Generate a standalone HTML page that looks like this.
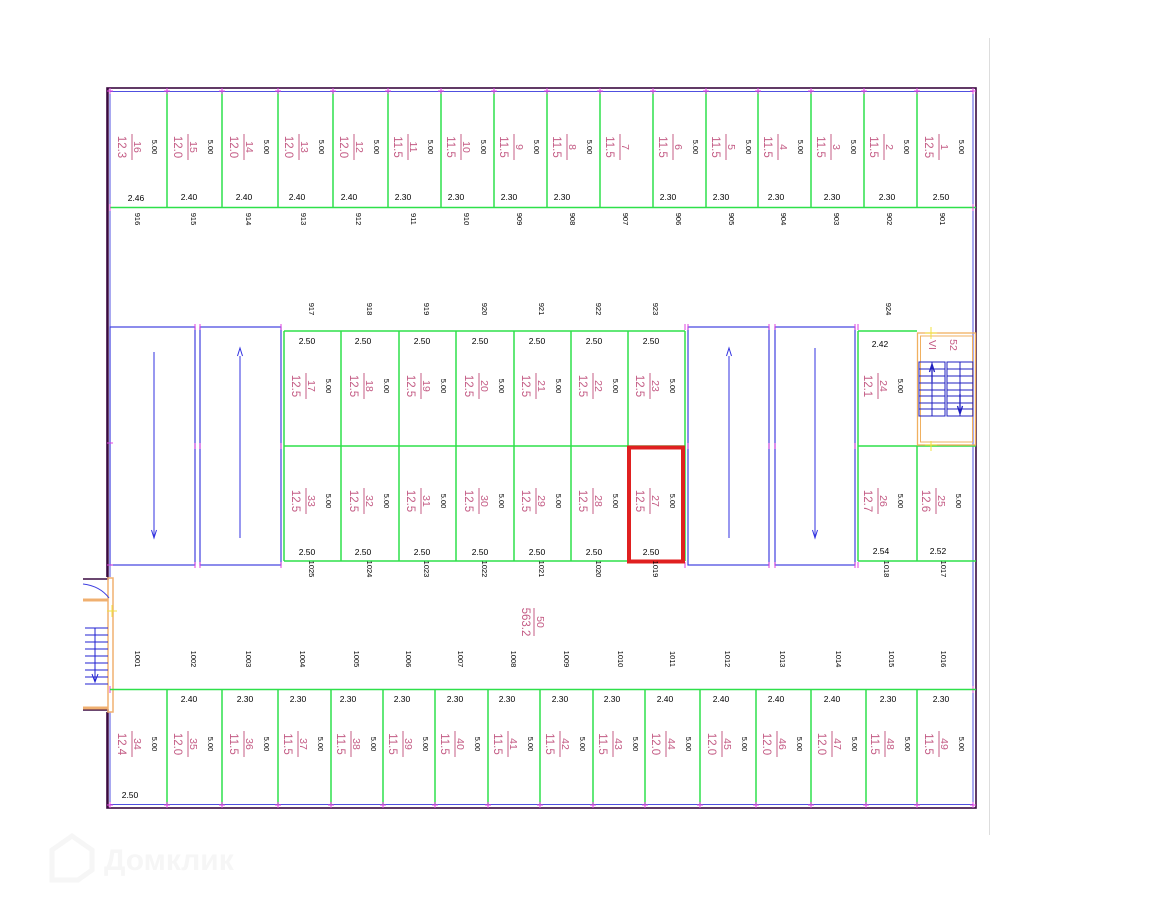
<!DOCTYPE html>
<html><head><meta charset="utf-8"><style>
html,body{margin:0;padding:0;background:#fff}
svg{display:block}
text{font-family:"Liberation Sans",sans-serif}
.a{fill:#c45c85;font-size:11.5px;text-anchor:middle}
.n{fill:#c45c85;font-size:10.5px;text-anchor:middle}
.s{fill:#000;font-size:7.5px;text-anchor:middle}
.w{fill:#000;font-size:8.5px;text-anchor:middle}
.l{fill:#000;font-size:7.5px;text-anchor:middle}
.fl{stroke:#c45c85;stroke-width:1}
.g{stroke:#2ee04a;stroke-width:1.5;fill:none}
.b{stroke:#4040e0;stroke-width:1.2;fill:none}
.t{stroke:#e040e0;stroke-width:1;fill:none}
</style></head><body>
<svg width="1152" height="915" viewBox="0 0 1152 915" xmlns="http://www.w3.org/2000/svg">
<line x1="989.5" y1="38" x2="989.5" y2="835" stroke="#ddd" stroke-width="1"/>
<rect x="107" y="88" width="869" height="720" fill="none" stroke="#3a0a40" stroke-width="1.6"/>
<rect x="110" y="91.5" width="863" height="713" fill="none" stroke="#5050e0" stroke-width="1"/>
<rect x="82" y="577" width="31" height="135" fill="#fff"/>
<path d="M83 579H108V88" fill="none" stroke="#3a0a40" stroke-width="1.5"/>
<path d="M83 710H108V808" fill="none" stroke="#3a0a40" stroke-width="1.5"/>
<rect x="108" y="578" width="5" height="134" fill="none" stroke="#f0b070" stroke-width="1.5"/>
<line x1="83" y1="600" x2="108" y2="600" stroke="#f0b070" stroke-width="3"/>
<line x1="83" y1="708" x2="108" y2="708" stroke="#f0b070" stroke-width="3"/>
<path d="M83 584Q100 586 109 598" fill="none" stroke="#4040e0" stroke-width="1"/>
<g stroke="#2020d0" stroke-width="1" fill="none">
<line x1="85" y1="628" x2="108" y2="628"/><line x1="85" y1="635" x2="108" y2="635"/><line x1="85" y1="642" x2="108" y2="642"/><line x1="85" y1="649" x2="108" y2="649"/><line x1="85" y1="656" x2="108" y2="656"/><line x1="85" y1="663" x2="108" y2="663"/><line x1="85" y1="670" x2="108" y2="670"/><line x1="85" y1="677" x2="108" y2="677"/><line x1="85" y1="684" x2="108" y2="684"/>
<line x1="95" y1="628" x2="95" y2="682"/><path d="M92 674L95 682L98 674"/>
</g>
<path d="M107 611H117M112 605V617" stroke="#f0e040" stroke-width="1"/>

<line x1="110" y1="207.5" x2="976" y2="207.5" class="g"/>
<g class="g">
<line x1="167" y1="92" x2="167" y2="207"/><line x1="222" y1="92" x2="222" y2="207"/><line x1="278" y1="92" x2="278" y2="207"/><line x1="333" y1="92" x2="333" y2="207"/><line x1="388" y1="92" x2="388" y2="207"/><line x1="441" y1="92" x2="441" y2="207"/><line x1="494" y1="92" x2="494" y2="207"/><line x1="547" y1="92" x2="547" y2="207"/><line x1="600" y1="92" x2="600" y2="207"/><line x1="653" y1="92" x2="653" y2="207"/><line x1="706" y1="92" x2="706" y2="207"/><line x1="758" y1="92" x2="758" y2="207"/><line x1="811" y1="92" x2="811" y2="207"/><line x1="864" y1="92" x2="864" y2="207"/><line x1="917" y1="92" x2="917" y2="207"/>
</g>
<g class="t">
<path d="M110 88v6M107 91h6M167 88v6M164 91h6M222 88v6M219 91h6M278 88v6M275 91h6M333 88v6M330 91h6M388 88v6M385 91h6M441 88v6M438 91h6M494 88v6M491 91h6M547 88v6M544 91h6M600 88v6M597 91h6M653 88v6M650 91h6M706 88v6M703 91h6M758 88v6M755 91h6M811 88v6M808 91h6M864 88v6M861 91h6M917 88v6M914 91h6M973 88v6M970 91h6"/>
<path d="M110 204v7M973 204v7M110 686v7M973 686v7"/>
</g>

<g transform="translate(138,147) rotate(90)"><text class="n" y="4">16</text><line class="fl" x1="-13" y1="6" x2="13" y2="6"/><text class="a" y="20">12.3</text><text class="s" y="-14">5.00</text></g>
<g transform="translate(194,147) rotate(90)"><text class="n" y="4">15</text><line class="fl" x1="-13" y1="6" x2="13" y2="6"/><text class="a" y="20">12.0</text><text class="s" y="-14">5.00</text></g>
<g transform="translate(250,147) rotate(90)"><text class="n" y="4">14</text><line class="fl" x1="-13" y1="6" x2="13" y2="6"/><text class="a" y="20">12.0</text><text class="s" y="-14">5.00</text></g>
<g transform="translate(305,147) rotate(90)"><text class="n" y="4">13</text><line class="fl" x1="-13" y1="6" x2="13" y2="6"/><text class="a" y="20">12.0</text><text class="s" y="-14">5.00</text></g>
<g transform="translate(360,147) rotate(90)"><text class="n" y="4">12</text><line class="fl" x1="-13" y1="6" x2="13" y2="6"/><text class="a" y="20">12.0</text><text class="s" y="-14">5.00</text></g>
<g transform="translate(414,147) rotate(90)"><text class="n" y="4">11</text><line class="fl" x1="-13" y1="6" x2="13" y2="6"/><text class="a" y="20">11.5</text><text class="s" y="-14">5.00</text></g>
<g transform="translate(467,147) rotate(90)"><text class="n" y="4">10</text><line class="fl" x1="-13" y1="6" x2="13" y2="6"/><text class="a" y="20">11.5</text><text class="s" y="-14">5.00</text></g>
<g transform="translate(520,147) rotate(90)"><text class="n" y="4">9</text><line class="fl" x1="-13" y1="6" x2="13" y2="6"/><text class="a" y="20">11.5</text><text class="s" y="-14">5.00</text></g>
<g transform="translate(573,147) rotate(90)"><text class="n" y="4">8</text><line class="fl" x1="-13" y1="6" x2="13" y2="6"/><text class="a" y="20">11.5</text><text class="s" y="-14">5.00</text></g>
<g transform="translate(626,147) rotate(90)"><text class="n" y="4">7</text><line class="fl" x1="-13" y1="6" x2="13" y2="6"/><text class="a" y="20">11.5</text></g>
<g transform="translate(679,147) rotate(90)"><text class="n" y="4">6</text><line class="fl" x1="-13" y1="6" x2="13" y2="6"/><text class="a" y="20">11.5</text><text class="s" y="-14">5.00</text></g>
<g transform="translate(732,147) rotate(90)"><text class="n" y="4">5</text><line class="fl" x1="-13" y1="6" x2="13" y2="6"/><text class="a" y="20">11.5</text><text class="s" y="-14">5.00</text></g>
<g transform="translate(784,147) rotate(90)"><text class="n" y="4">4</text><line class="fl" x1="-13" y1="6" x2="13" y2="6"/><text class="a" y="20">11.5</text><text class="s" y="-14">5.00</text></g>
<g transform="translate(837,147) rotate(90)"><text class="n" y="4">3</text><line class="fl" x1="-13" y1="6" x2="13" y2="6"/><text class="a" y="20">11.5</text><text class="s" y="-14">5.00</text></g>
<g transform="translate(890,147) rotate(90)"><text class="n" y="4">2</text><line class="fl" x1="-13" y1="6" x2="13" y2="6"/><text class="a" y="20">11.5</text><text class="s" y="-14">5.00</text></g>
<g transform="translate(945,147) rotate(90)"><text class="n" y="4">1</text><line class="fl" x1="-13" y1="6" x2="13" y2="6"/><text class="a" y="20">12.5</text><text class="s" y="-14">5.00</text></g>
<g class="w">
<text x="136" y="201">2.46</text><text x="189" y="200">2.40</text><text x="244" y="200">2.40</text><text x="297" y="200">2.40</text><text x="349" y="200">2.40</text><text x="403" y="200">2.30</text><text x="456" y="200">2.30</text><text x="509" y="200">2.30</text><text x="562" y="200">2.30</text><text x="668" y="200">2.30</text><text x="721" y="200">2.30</text><text x="776" y="200">2.30</text><text x="832" y="200">2.30</text><text x="887" y="200">2.30</text><text x="941" y="200">2.50</text>
</g>
<g class="l">
<text transform="translate(135,219) rotate(90)">916</text><text transform="translate(191,219) rotate(90)">915</text><text transform="translate(246,219) rotate(90)">914</text><text transform="translate(301,219) rotate(90)">913</text><text transform="translate(356,219) rotate(90)">912</text><text transform="translate(411,219) rotate(90)">911</text><text transform="translate(464,219) rotate(90)">910</text><text transform="translate(517,219) rotate(90)">909</text><text transform="translate(570,219) rotate(90)">908</text><text transform="translate(623,219) rotate(90)">907</text><text transform="translate(676,219) rotate(90)">906</text><text transform="translate(729,219) rotate(90)">905</text><text transform="translate(781,219) rotate(90)">904</text><text transform="translate(834,219) rotate(90)">903</text><text transform="translate(887,219) rotate(90)">902</text><text transform="translate(940,219) rotate(90)">901</text>
</g>

<g class="b">
<rect x="110" y="327" width="85" height="238"/><rect x="200" y="327" width="81" height="238"/>
<rect x="688" y="327" width="81" height="238"/><rect x="775" y="327" width="80" height="238"/>
</g>
<g stroke="#3030e0" stroke-width="1" fill="none">
<line x1="154" y1="352" x2="154" y2="536"/><path d="M151.5 530L154 538L156.5 530"/>
<line x1="240" y1="356" x2="240" y2="538"/><path d="M237.5 356L240 348L242.5 356"/>
<line x1="729" y1="356" x2="729" y2="538"/><path d="M726.5 356L729 348L731.5 356"/>
<line x1="815" y1="348" x2="815" y2="536"/><path d="M812.5 530L815 538L817.5 530"/>
</g>
<g class="t"><path d="M195 324v6M200 324v6M195 443v6M200 443v6M195 562v6M200 562v6M281 324v6M281 443v6M281 562v6M685 324v6M688 324v6M769 324v6M775 324v6M855 324v6M858 324v6M685 443v6M688 443v6M769 443v6M775 443v6M855 443v6M858 443v6M685 562v6M769 562v6M775 562v6M855 562v6M858 562v6M107 443h6M107 565h6"/></g>

<g class="g">
<line x1="284" y1="331" x2="685" y2="331"/><line x1="284" y1="446" x2="685" y2="446"/><line x1="284" y1="561" x2="685" y2="561"/>
<line x1="284" y1="331" x2="284" y2="561"/><line x1="341" y1="331" x2="341" y2="561"/><line x1="399" y1="331" x2="399" y2="561"/><line x1="456" y1="331" x2="456" y2="561"/><line x1="514" y1="331" x2="514" y2="561"/><line x1="571" y1="331" x2="571" y2="561"/><line x1="628" y1="331" x2="628" y2="561"/><line x1="685" y1="331" x2="685" y2="561"/>
<line x1="858" y1="331" x2="917" y2="331"/><line x1="858" y1="446" x2="976" y2="446"/><line x1="858" y1="561" x2="976" y2="561"/>
<line x1="858" y1="331" x2="858" y2="561"/><line x1="917" y1="446" x2="917" y2="561"/>
</g>
<rect x="629" y="447.5" width="54" height="114" fill="none" stroke="#e02020" stroke-width="4"/>

<g transform="translate(312,386) rotate(90)"><text class="n" y="4">17</text><line class="fl" x1="-13" y1="6" x2="13" y2="6"/><text class="a" y="20">12.5</text><text class="s" y="-14">5.00</text></g>
<g transform="translate(370,386) rotate(90)"><text class="n" y="4">18</text><line class="fl" x1="-13" y1="6" x2="13" y2="6"/><text class="a" y="20">12.5</text><text class="s" y="-14">5.00</text></g>
<g transform="translate(427,386) rotate(90)"><text class="n" y="4">19</text><line class="fl" x1="-13" y1="6" x2="13" y2="6"/><text class="a" y="20">12.5</text><text class="s" y="-14">5.00</text></g>
<g transform="translate(485,386) rotate(90)"><text class="n" y="4">20</text><line class="fl" x1="-13" y1="6" x2="13" y2="6"/><text class="a" y="20">12.5</text><text class="s" y="-14">5.00</text></g>
<g transform="translate(542,386) rotate(90)"><text class="n" y="4">21</text><line class="fl" x1="-13" y1="6" x2="13" y2="6"/><text class="a" y="20">12.5</text><text class="s" y="-14">5.00</text></g>
<g transform="translate(599,386) rotate(90)"><text class="n" y="4">22</text><line class="fl" x1="-13" y1="6" x2="13" y2="6"/><text class="a" y="20">12.5</text><text class="s" y="-14">5.00</text></g>
<g transform="translate(656,386) rotate(90)"><text class="n" y="4">23</text><line class="fl" x1="-13" y1="6" x2="13" y2="6"/><text class="a" y="20">12.5</text><text class="s" y="-14">5.00</text></g>
<g transform="translate(884,386) rotate(90)"><text class="n" y="4">24</text><line class="fl" x1="-13" y1="6" x2="13" y2="6"/><text class="a" y="20">12.1</text><text class="s" y="-14">5.00</text></g>

<g transform="translate(312,501) rotate(90)"><text class="n" y="4">33</text><line class="fl" x1="-13" y1="6" x2="13" y2="6"/><text class="a" y="20">12.5</text><text class="s" y="-14">5.00</text></g>
<g transform="translate(370,501) rotate(90)"><text class="n" y="4">32</text><line class="fl" x1="-13" y1="6" x2="13" y2="6"/><text class="a" y="20">12.5</text><text class="s" y="-14">5.00</text></g>
<g transform="translate(427,501) rotate(90)"><text class="n" y="4">31</text><line class="fl" x1="-13" y1="6" x2="13" y2="6"/><text class="a" y="20">12.5</text><text class="s" y="-14">5.00</text></g>
<g transform="translate(485,501) rotate(90)"><text class="n" y="4">30</text><line class="fl" x1="-13" y1="6" x2="13" y2="6"/><text class="a" y="20">12.5</text><text class="s" y="-14">5.00</text></g>
<g transform="translate(542,501) rotate(90)"><text class="n" y="4">29</text><line class="fl" x1="-13" y1="6" x2="13" y2="6"/><text class="a" y="20">12.5</text><text class="s" y="-14">5.00</text></g>
<g transform="translate(599,501) rotate(90)"><text class="n" y="4">28</text><line class="fl" x1="-13" y1="6" x2="13" y2="6"/><text class="a" y="20">12.5</text><text class="s" y="-14">5.00</text></g>
<g transform="translate(656,501) rotate(90)"><text class="n" y="4">27</text><line class="fl" x1="-13" y1="6" x2="13" y2="6"/><text class="a" y="20">12.5</text><text class="s" y="-14">5.00</text></g>
<g transform="translate(884,501) rotate(90)"><text class="n" y="4">26</text><line class="fl" x1="-13" y1="6" x2="13" y2="6"/><text class="a" y="20">12.7</text><text class="s" y="-14">5.00</text></g>
<g transform="translate(942,501) rotate(90)"><text class="n" y="4">25</text><line class="fl" x1="-13" y1="6" x2="13" y2="6"/><text class="a" y="20">12.6</text><text class="s" y="-14">5.00</text></g>

<g class="w">
<text x="307" y="344">2.50</text><text x="363" y="344">2.50</text><text x="422" y="344">2.50</text><text x="480" y="344">2.50</text><text x="537" y="344">2.50</text><text x="594" y="344">2.50</text><text x="651" y="344">2.50</text><text x="880" y="347">2.42</text>
<text x="307" y="555">2.50</text><text x="363" y="555">2.50</text><text x="422" y="555">2.50</text><text x="480" y="555">2.50</text><text x="537" y="555">2.50</text><text x="594" y="555">2.50</text><text x="651" y="555">2.50</text><text x="881" y="554">2.54</text><text x="938" y="554">2.52</text>
</g>
<g class="l">
<text transform="translate(309,309) rotate(90)">917</text><text transform="translate(367,309) rotate(90)">918</text><text transform="translate(424,309) rotate(90)">919</text><text transform="translate(482,309) rotate(90)">920</text><text transform="translate(539,309) rotate(90)">921</text><text transform="translate(596,309) rotate(90)">922</text><text transform="translate(653,309) rotate(90)">923</text><text transform="translate(886,309) rotate(90)">924</text>
<text transform="translate(309,569) rotate(90)">1025</text><text transform="translate(367,569) rotate(90)">1024</text><text transform="translate(424,569) rotate(90)">1023</text><text transform="translate(482,569) rotate(90)">1022</text><text transform="translate(539,569) rotate(90)">1021</text><text transform="translate(596,569) rotate(90)">1020</text><text transform="translate(653,569) rotate(90)">1019</text><text transform="translate(884,569) rotate(90)">1018</text><text transform="translate(941,569) rotate(90)">1017</text>
</g>

<rect x="917.5" y="333" width="58" height="112" fill="none" stroke="#f0b060" stroke-width="1.3"/>
<rect x="920.5" y="336" width="52" height="106" fill="none" stroke="#f0b060" stroke-width="1"/>
<path d="M931 327v12M925 333h12M931 441v10M925 445h12" stroke="#f0e040" stroke-width="1"/>
<text class="n" transform="translate(929,345) rotate(90)">VI</text>
<text class="n" transform="translate(950,345) rotate(90)">52</text>
<g stroke="#2020c0" stroke-width="1" fill="none">
<rect x="919" y="362" width="26" height="54"/><rect x="947" y="362" width="26" height="54"/>
<path d="M919 369h26M919 376h26M919 383h26M919 390h26M919 396h26M919 403h26M919 409h26M947 369h26M947 376h26M947 383h26M947 390h26M947 396h26M947 403h26M947 409h26M932 362v54M960 362v54"/>
<path d="M932 364v18M929.5 372L932 364L934.5 372M960 394v20M957.5 406L960 414L962.5 406" stroke-width="1.3"/>
</g>

<g transform="translate(540,622) rotate(90)"><text class="n" y="3">50</text><line class="fl" x1="-14" y1="6" x2="14" y2="6"/><text class="a" y="18">563.2</text></g>

<line x1="110" y1="689.5" x2="976" y2="689.5" class="g"/>
<g class="g">
<line x1="167" y1="690" x2="167" y2="805"/><line x1="222" y1="690" x2="222" y2="805"/><line x1="278" y1="690" x2="278" y2="805"/><line x1="331" y1="690" x2="331" y2="805"/><line x1="383" y1="690" x2="383" y2="805"/><line x1="435" y1="690" x2="435" y2="805"/><line x1="488" y1="690" x2="488" y2="805"/><line x1="540" y1="690" x2="540" y2="805"/><line x1="593" y1="690" x2="593" y2="805"/><line x1="645" y1="690" x2="645" y2="805"/><line x1="700" y1="690" x2="700" y2="805"/><line x1="756" y1="690" x2="756" y2="805"/><line x1="811" y1="690" x2="811" y2="805"/><line x1="866" y1="690" x2="866" y2="805"/><line x1="917" y1="690" x2="917" y2="805"/>
</g>
<g class="t">
<path d="M110 802v6M107 805h6M167 802v6M164 805h6M222 802v6M219 805h6M278 802v6M275 805h6M331 802v6M328 805h6M383 802v6M380 805h6M435 802v6M432 805h6M488 802v6M485 805h6M540 802v6M537 805h6M593 802v6M590 805h6M645 802v6M642 805h6M700 802v6M697 805h6M756 802v6M753 805h6M811 802v6M808 805h6M866 802v6M863 805h6M917 802v6M914 805h6M973 802v6M970 805h6"/>
</g>
<g transform="translate(138,744) rotate(90)"><text class="n" y="4">34</text><line class="fl" x1="-13" y1="6" x2="13" y2="6"/><text class="a" y="20">12.4</text><text class="s" y="-14">5.00</text></g>
<g transform="translate(194,744) rotate(90)"><text class="n" y="4">35</text><line class="fl" x1="-13" y1="6" x2="13" y2="6"/><text class="a" y="20">12.0</text><text class="s" y="-14">5.00</text></g>
<g transform="translate(250,744) rotate(90)"><text class="n" y="4">36</text><line class="fl" x1="-13" y1="6" x2="13" y2="6"/><text class="a" y="20">11.5</text><text class="s" y="-14">5.00</text></g>
<g transform="translate(304,744) rotate(90)"><text class="n" y="4">37</text><line class="fl" x1="-13" y1="6" x2="13" y2="6"/><text class="a" y="20">11.5</text><text class="s" y="-14">5.00</text></g>
<g transform="translate(357,744) rotate(90)"><text class="n" y="4">38</text><line class="fl" x1="-13" y1="6" x2="13" y2="6"/><text class="a" y="20">11.5</text><text class="s" y="-14">5.00</text></g>
<g transform="translate(409,744) rotate(90)"><text class="n" y="4">39</text><line class="fl" x1="-13" y1="6" x2="13" y2="6"/><text class="a" y="20">11.5</text><text class="s" y="-14">5.00</text></g>
<g transform="translate(461,744) rotate(90)"><text class="n" y="4">40</text><line class="fl" x1="-13" y1="6" x2="13" y2="6"/><text class="a" y="20">11.5</text><text class="s" y="-14">5.00</text></g>
<g transform="translate(514,744) rotate(90)"><text class="n" y="4">41</text><line class="fl" x1="-13" y1="6" x2="13" y2="6"/><text class="a" y="20">11.5</text><text class="s" y="-14">5.00</text></g>
<g transform="translate(566,744) rotate(90)"><text class="n" y="4">42</text><line class="fl" x1="-13" y1="6" x2="13" y2="6"/><text class="a" y="20">11.5</text><text class="s" y="-14">5.00</text></g>
<g transform="translate(619,744) rotate(90)"><text class="n" y="4">43</text><line class="fl" x1="-13" y1="6" x2="13" y2="6"/><text class="a" y="20">11.5</text><text class="s" y="-14">5.00</text></g>
<g transform="translate(672,744) rotate(90)"><text class="n" y="4">44</text><line class="fl" x1="-13" y1="6" x2="13" y2="6"/><text class="a" y="20">12.0</text><text class="s" y="-14">5.00</text></g>
<g transform="translate(728,744) rotate(90)"><text class="n" y="4">45</text><line class="fl" x1="-13" y1="6" x2="13" y2="6"/><text class="a" y="20">12.0</text><text class="s" y="-14">5.00</text></g>
<g transform="translate(783,744) rotate(90)"><text class="n" y="4">46</text><line class="fl" x1="-13" y1="6" x2="13" y2="6"/><text class="a" y="20">12.0</text><text class="s" y="-14">5.00</text></g>
<g transform="translate(838,744) rotate(90)"><text class="n" y="4">47</text><line class="fl" x1="-13" y1="6" x2="13" y2="6"/><text class="a" y="20">12.0</text><text class="s" y="-14">5.00</text></g>
<g transform="translate(891,744) rotate(90)"><text class="n" y="4">48</text><line class="fl" x1="-13" y1="6" x2="13" y2="6"/><text class="a" y="20">11.5</text><text class="s" y="-14">5.00</text></g>
<g transform="translate(945,744) rotate(90)"><text class="n" y="4">49</text><line class="fl" x1="-13" y1="6" x2="13" y2="6"/><text class="a" y="20">11.5</text><text class="s" y="-14">5.00</text></g>
<g class="w">
<text x="130" y="798">2.50</text>
<text x="189" y="702">2.40</text><text x="245" y="702">2.30</text><text x="298" y="702">2.30</text><text x="348" y="702">2.30</text><text x="402" y="702">2.30</text><text x="455" y="702">2.30</text><text x="507" y="702">2.30</text><text x="560" y="702">2.30</text><text x="612" y="702">2.30</text><text x="665" y="702">2.40</text><text x="721" y="702">2.40</text><text x="776" y="702">2.40</text><text x="832" y="702">2.40</text><text x="888" y="702">2.30</text><text x="941" y="702">2.30</text>
</g>
<g class="l">
<text transform="translate(135,659) rotate(90)">1001</text><text transform="translate(191,659) rotate(90)">1002</text><text transform="translate(246,659) rotate(90)">1003</text><text transform="translate(300,659) rotate(90)">1004</text><text transform="translate(354,659) rotate(90)">1005</text><text transform="translate(406,659) rotate(90)">1006</text><text transform="translate(458,659) rotate(90)">1007</text><text transform="translate(511,659) rotate(90)">1008</text><text transform="translate(564,659) rotate(90)">1009</text><text transform="translate(618,659) rotate(90)">1010</text><text transform="translate(670,659) rotate(90)">1011</text><text transform="translate(725,659) rotate(90)">1012</text><text transform="translate(780,659) rotate(90)">1013</text><text transform="translate(836,659) rotate(90)">1014</text><text transform="translate(889,659) rotate(90)">1015</text><text transform="translate(941,659) rotate(90)">1016</text>
</g>

<path d="M52 850L72 836L92 850V870L78 880H52Z" fill="none" stroke="#f6f6f6" stroke-width="5"/>
<text x="104" y="870" font-size="30" font-weight="bold" fill="#f6f6f6">Домклик</text>
</svg>
</body></html>
